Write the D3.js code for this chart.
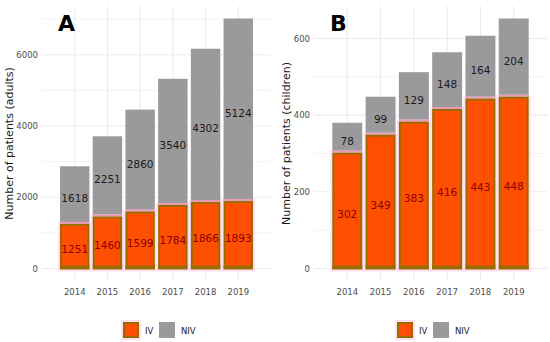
<!DOCTYPE html>
<html>
<head>
<meta charset="utf-8">
<script src="https://cdn.jsdelivr.net/npm/d3@7"></script>
<style>
  body { margin: 0; background: #fff; }
  text { font-family: "DejaVu Sans", sans-serif; }
</style>
</head>
<body>
<script>
// data
const years = ['2014', '2015', '2016', '2017', '2018', '2019'];
const adultsIV = [1251, 1460, 1599, 1784, 1866, 1893];
const adultsNIV = [1618, 2251, 2860, 3540, 4302, 5124];
const childrenIV = [302, 349, 383, 416, 443, 448];
const childrenNIV = [78, 99, 129, 148, 164, 204];
const adultTicks = [0, 2000, 4000, 6000];
const childTicks = [0, 200, 400, 600];
const seriesNames = ['IV', 'NIV'];

// colours
const ivFill = '#ff4f00';
const ivEdge = '#9a6c00';
const nivFill = '#9a9a9d';
const gridCol = '#ebebeb';

const svg = d3.select('body').append('svg')
              .attr('width', 550)
              .attr('height', 342);

function panel(opts) {
    const g = svg.append('g');
    const totals = opts.iv.map((v, i) => v + opts.niv[i]);
    const maxV = d3.max(totals);

    const x = d3.scaleBand()
                .domain(years)
                .range([opts.left, opts.right])
                .paddingInner(0.1)
                .paddingOuter(0.55);

    const y = d3.scaleLinear()
                .domain([-0.05 * maxV, 1.05 * maxV])
                .range([281, 6]);

    // minor grid
    const step = opts.ticks[1] - opts.ticks[0];
    const minor = d3.range(step / 2, 1.05 * maxV, step);
    g.selectAll('.minor').data(minor).enter().append('line')
     .attr('x1', opts.left).attr('x2', opts.right)
     .attr('y1', d => y(d)).attr('y2', d => y(d))
     .attr('stroke', gridCol).attr('stroke-width', 0.6);

    // major grid
    g.selectAll('.major').data(opts.ticks).enter().append('line')
     .attr('x1', opts.left).attr('x2', opts.right)
     .attr('y1', d => y(d)).attr('y2', d => y(d))
     .attr('stroke', gridCol).attr('stroke-width', 1.1);
    g.selectAll('.vgrid').data(years).enter().append('line')
     .attr('x1', d => x(d) + x.bandwidth() / 2).attr('x2', d => x(d) + x.bandwidth() / 2)
     .attr('y1', 6).attr('y2', 281)
     .attr('stroke', gridCol).attr('stroke-width', 1.1);

    // NIV stacked on top
    g.selectAll('.niv').data(years).enter().append('rect')
     .attr('x', d => x(d))
     .attr('width', x.bandwidth())
     .attr('y', (d, i) => y(totals[i]))
     .attr('height', (d, i) => y(opts.iv[i]) - y(totals[i]))
     .attr('fill', nivFill);

    // faint pink halo round IV bars
    g.selectAll('.halo').data(years).enter().append('rect')
     .attr('x', d => x(d) - 2)
     .attr('width', x.bandwidth() + 4)
     .attr('y', (d, i) => y(opts.iv[i]) - 2)
     .attr('height', (d, i) => y(0) - y(opts.iv[i]) + 5)
     .attr('fill', '#ffe0f3');
    g.selectAll('.nivcover').data(years).enter().append('rect')
     .attr('x', d => x(d))
     .attr('width', x.bandwidth())
     .attr('y', (d, i) => y(opts.iv[i]) - 2)
     .attr('height', 2)
     .attr('fill', '#e99ab8');

    // IV bars
    g.selectAll('.iv').data(years).enter().append('rect')
     .attr('x', d => x(d) + 1)
     .attr('width', x.bandwidth() - 2)
     .attr('y', (d, i) => y(opts.iv[i]) + 1)
     .attr('height', (d, i) => y(0) - y(opts.iv[i]) - 1)
     .attr('fill', ivFill)
     .attr('stroke', ivEdge)
     .attr('stroke-width', 2);
    g.selectAll('.ivbase').data(years).enter().append('rect')
     .attr('x', d => x(d))
     .attr('width', x.bandwidth())
     .attr('y', y(0) - 3)
     .attr('height', 3)
     .attr('fill', ivEdge);

    // value labels
    g.selectAll('.ivlab').data(years).enter().append('text')
     .attr('x', d => x(d) + x.bandwidth() / 2)
     .attr('y', (d, i) => y(opts.iv[i] / 2) + 7)
     .attr('text-anchor', 'middle')
     .attr('font-size', 10.5)
     .attr('fill', '#8b0000')
     .text((d, i) => opts.iv[i]);
    g.selectAll('.nivlab').data(years).enter().append('text')
     .attr('x', d => x(d) + x.bandwidth() / 2)
     .attr('y', (d, i) => y(opts.iv[i] + opts.niv[i] / 2) + 7)
     .attr('text-anchor', 'middle')
     .attr('font-size', 10.5)
     .attr('fill', '#1a1a1a')
     .text((d, i) => opts.niv[i]);

    // axes, no lines
    const yAxis = g.append('g')
                   .attr('transform', 'translate(' + opts.left + ',0)')
                   .call(d3.axisLeft(y).tickValues(opts.ticks).tickFormat(d3.format('d')).tickSize(0).tickPadding(4));
    const xAxis = g.append('g')
                   .attr('transform', 'translate(0,281)')
                   .call(d3.axisBottom(x).tickSize(0).tickPadding(8));
    [xAxis, yAxis].forEach(a => {
        a.select('.domain').remove();
        a.selectAll('text').attr('font-size', 8.5).attr('fill', '#4d4d4d')
         .attr('font-family', '"DejaVu Sans", sans-serif');
    });

    // axis title
    g.append('text')
     .attr('transform', 'translate(' + opts.titleX + ',143.5) rotate(-90)')
     .attr('text-anchor', 'middle')
     .attr('font-size', 11)
     .attr('fill', '#1a1a1a')
     .text(opts.yTitle);

    // panel letter
    g.append('text')
     .attr('x', opts.letterX)
     .attr('y', 31)
     .attr('font-size', 22)
     .attr('font-weight', 'bold')
     .attr('font-family', '"Liberation Sans", Arial, sans-serif')
     .text(opts.letter);

    // legend
    const lg = g.append('g').attr('transform', 'translate(' + opts.legendX + ',322)');
    lg.append('rect').attr('x', -2).attr('y', -2).attr('width', 20).attr('height', 20).attr('fill', '#ffe0f3');
    lg.append('rect').attr('x', 1).attr('y', 1).attr('width', 14).attr('height', 14)
      .attr('fill', ivFill).attr('stroke', ivEdge).attr('stroke-width', 2);
    lg.append('text').attr('x', 22).attr('y', 11.5).attr('font-size', 8.5).attr('fill', '#1a1a1a').text(seriesNames[0]);
    lg.append('rect').attr('x', 36).attr('y', 0).attr('width', 16).attr('height', 16).attr('fill', nivFill);
    lg.append('text').attr('x', 58).attr('y', 11.5).attr('font-size', 8.5).attr('fill', '#1a1a1a').text(seriesNames[1]);
}

panel({
    iv: adultsIV, niv: adultsNIV, ticks: adultTicks,
    left: 42, right: 271, titleX: 13, yTitle: 'Number of patients (adults)',
    letter: 'A', letterX: 58, legendX: 123
});
panel({
    iv: childrenIV, niv: childrenNIV, ticks: childTicks,
    left: 314, right: 547, titleX: 290, yTitle: 'Number of patients (children)',
    letter: 'B', letterX: 330, legendX: 397
});
</script>
</body>
</html>
